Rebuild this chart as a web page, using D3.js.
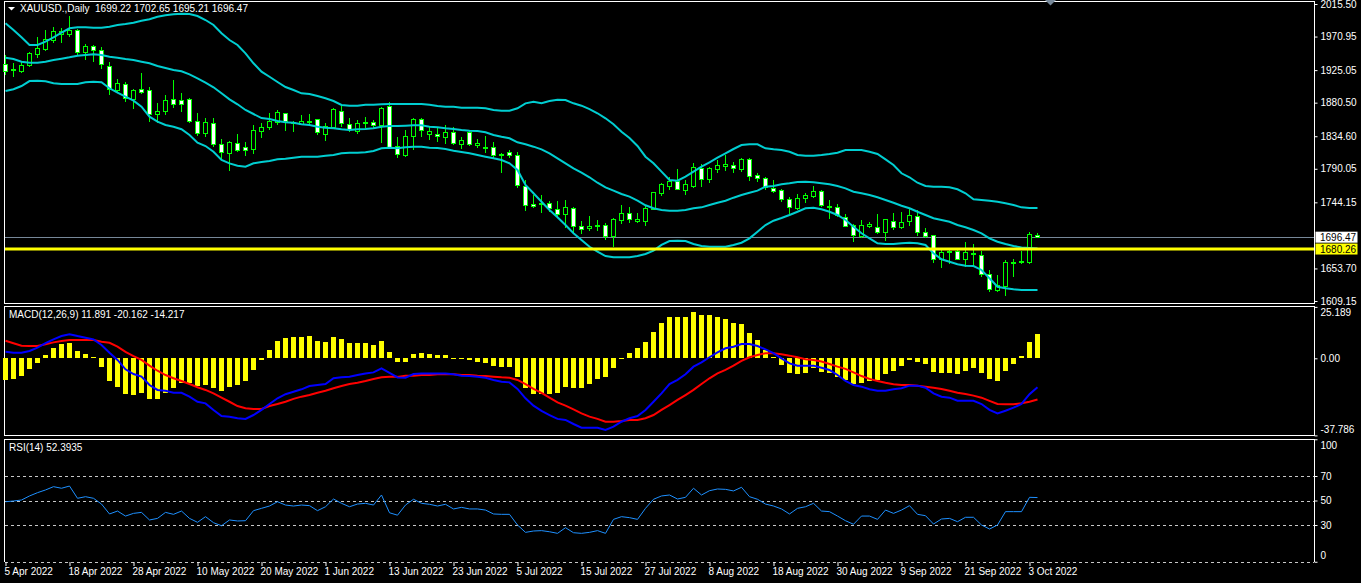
<!DOCTYPE html>
<html>
<head>
<meta charset="utf-8">
<script src="https://cdn.jsdelivr.net/npm/d3@7"></script>
<style>
  html, body { margin: 0; padding: 0; background: #000; }
  svg { display: block; }
  text { font-family: "Liberation Sans", Arial, sans-serif; font-size: 10px; fill: #fff; }
</style>
</head>
<body>
<svg id="chart"></svg>
<script>
// ---- daily OHLC, XAUUSD ----
const open = [1933.0,1924.2,1923.4,1931.6,1946.7,1953.5,1965.3,1973.5,1973.5,1979.9,
  1948.9,1957.1,1951.6,1929.7,1897.8,1905.1,1885.1,1898.8,1896.5,1864.0,
  1868.1,1884.2,1883.5,1885.1,1855.0,1838.6,1852.3,1823.5,1811.2,1824.9,
  1818.5,1816.7,1841.3,1846.3,1853.6,1866.0,1853.6,1850.9,1852.7,1856.8,
  1836.3,1846.8,1868.1,1850.9,1840.8,1853.6,1853.6,1849.0,1875.9,1821.2,
  1808.9,1833.9,1857.7,1837.2,1837.6,1832.6,1839.4,1822.6,1840.0,1821.6,
  1819.4,1819.4,1808.5,1813.0,1808.9,1765.5,1741.5,1743.2,1742.8,1734.6,
  1727.2,1736.0,1711.4,1707.7,1710.8,1713.1,1697.1,1719.0,1729.1,1717.6,
  1717.6,1735.0,1756.5,1765.5,1773.3,1760.1,1765.5,1790.7,1775.7,1789.3,
  1793.4,1793.9,1789.3,1803.0,1781.5,1777.0,1763.3,1760.3,1748.3,1736.0,
  1749.1,1751.9,1759.6,1736.8,1737.3,1723.7,1712.7,1697.1,1710.8,1710.0,
  1702.6,1718.2,1710.0,1718.2,1725.0,1702.6,1698.5,1666.2,1675.2,1676.6,
  1666.2,1672.5,1671.7,1645.7,1623.8,1628.7,1660.2,1661.6,1661.6,1699.22];
const high = [1945.7,1934.4,1937.9,1949.8,1970.8,1979.9,1984.4,1982.3,1999.1,1980.9,
  1960.4,1959.8,1957.1,1936.1,1912.9,1909.2,1898.8,1921.5,1901.5,1879.6,
  1891.0,1911.5,1893.3,1886.9,1866.0,1859.1,1859.1,1830.4,1828.1,1837.6,
  1826.3,1849.5,1852.3,1866.0,1870.5,1866.8,1855.4,1863.6,1865.0,1858.2,
  1852.3,1872.8,1875.9,1859.1,1856.8,1860.5,1856.8,1875.0,1881.0,1833.9,
  1843.1,1859.1,1859.1,1847.6,1845.4,1849.9,1846.8,1833.9,1842.2,1830.4,
  1834.9,1826.3,1811.2,1815.7,1813.4,1774.7,1754.2,1754.2,1746.4,1746.4,
  1747.3,1738.2,1719.0,1725.4,1720.0,1715.5,1722.3,1740.5,1737.3,1729.1,
  1740.5,1758.7,1770.2,1779.2,1789.3,1774.7,1797.5,1796.6,1792.9,1802.1,
  1808.9,1799.7,1804.4,1804.4,1784.7,1779.2,1774.7,1762.0,1751.0,1755.5,
  1757.3,1766.5,1761.0,1747.3,1741.5,1727.8,1714.5,1720.0,1717.2,1728.2,
  1721.7,1729.1,1730.9,1736.4,1733.7,1708.6,1699.4,1678.9,1679.9,1678.9,
  1689.9,1686.7,1677.6,1651.6,1644.7,1665.2,1666.2,1678.0,1704.0,1702.65];
const low = [1918.4,1916.0,1920.7,1928.9,1941.2,1951.6,1961.7,1961.7,1970.8,1945.7,
  1938.9,1936.6,1927.0,1891.0,1893.3,1881.8,1871.8,1892.4,1854.5,1852.3,
  1863.6,1873.6,1867.3,1852.3,1835.3,1833.9,1820.3,1803.0,1787.4,1813.4,
  1807.9,1810.3,1832.6,1843.1,1849.9,1842.2,1840.8,1849.9,1848.6,1836.3,
  1828.1,1845.4,1847.6,1840.8,1837.6,1845.4,1844.1,1825.7,1816.7,1804.4,
  1806.6,1815.7,1833.9,1829.4,1827.1,1824.0,1822.6,1816.7,1821.2,1818.1,
  1811.2,1803.4,1784.7,1804.4,1764.2,1732.7,1736.0,1730.0,1731.3,1723.7,
  1708.6,1704.0,1700.8,1705.3,1705.3,1692.6,1682.6,1714.5,1715.5,1715.5,
  1711.8,1734.6,1752.8,1761.0,1761.0,1754.2,1763.3,1765.5,1771.0,1783.9,
  1787.4,1783.9,1786.1,1773.3,1772.4,1761.0,1756.5,1745.0,1727.8,1733.7,
  1743.6,1750.5,1737.3,1721.7,1723.7,1710.0,1690.3,1694.9,1708.6,1700.8,
  1691.6,1706.3,1707.2,1711.8,1698.1,1694.9,1661.6,1654.7,1659.8,1665.2,
  1656.1,1657.0,1642.4,1621.9,1621.9,1616.4,1642.4,1659.8,1659.8,1695.21];
const close = [1923.8,1926.2,1931.6,1947.1,1954.9,1967.2,1978.1,1978.1,1979.9,1948.9,
  1958.0,1952.2,1933.0,1898.8,1907.0,1886.5,1896.5,1894.7,1864.6,1869.1,
  1882.8,1878.3,1878.0,1854.5,1838.6,1853.6,1822.6,1812.6,1825.7,1815.7,
  1815.3,1842.2,1846.8,1855.0,1867.3,1854.5,1853.2,1855.0,1855.4,1839.4,
  1847.6,1870.5,1852.3,1844.1,1852.3,1854.0,1849.0,1872.8,1818.9,1809.9,
  1834.9,1857.7,1842.2,1840.8,1833.9,1839.4,1824.0,1828.1,1822.6,1824.9,
  1819.8,1808.0,1809.2,1808.0,1766.5,1739.5,1738.2,1742.4,1735.4,1727.2,
  1737.3,1710.8,1706.7,1710.4,1713.1,1697.1,1720.9,1728.2,1720.9,1720.9,
  1736.0,1757.9,1767.9,1773.3,1762.0,1767.9,1792.1,1775.7,1790.7,1795.2,
  1795.6,1790.7,1802.1,1779.2,1777.0,1764.7,1758.7,1748.3,1737.3,1749.7,
  1753.8,1759.6,1739.5,1739.1,1725.9,1710.8,1699.4,1712.7,1714.5,1702.6,
  1720.9,1710.0,1716.8,1726.4,1703.1,1697.7,1666.2,1675.8,1677.1,1666.2,
  1675.8,1674.8,1645.7,1625.2,1630.1,1662.1,1662.5,1663.5,1700.8,1696.47];

// ---- Bollinger bands ----
const bbUpper = [1989.1,1979.9,1969.9,1959.4,1959.4,1963.9,1969.9,1976.2,1982.3,1983.6,
  1983.6,1983.1,1983.1,1984.4,1986.8,1988.1,1989.9,1992.7,1994.6,1998.1,
  2000.0,2001.4,2002.2,2001.8,1999.1,1993.6,1986.8,1975.4,1966.2,1959.4,
  1948.0,1934.4,1922.9,1916.0,1908.8,1901.9,1897.8,1893.3,1892.4,1889.6,
  1886.5,1882.8,1877.3,1876.4,1876.4,1877.7,1877.7,1878.3,1878.7,1878.7,
  1878.7,1878.7,1878.7,1877.7,1875.9,1875.0,1875.0,1873.6,1873.6,1873.6,
  1872.8,1870.5,1869.5,1869.5,1872.8,1879.6,1881.8,1879.6,1882.8,1884.6,
  1884.2,1879.6,1876.4,1871.8,1866.0,1859.1,1850.9,1840.8,1832.2,1821.2,
  1806.6,1797.5,1786.1,1774.7,1773.7,1779.2,1786.1,1792.9,1798.9,1805.2,
  1811.2,1817.1,1822.6,1823.5,1823.5,1818.1,1816.7,1815.7,1813.4,1808.9,
  1807.9,1807.9,1808.9,1810.3,1812.1,1815.7,1815.7,1815.7,1813.4,1810.3,
  1803.0,1795.2,1783.9,1778.4,1771.0,1766.5,1765.5,1765.5,1764.7,1762.0,
  1756.5,1748.3,1747.3,1746.4,1745.0,1742.8,1740.5,1737.3,1736.4,1736.4];
const bbMiddle = [1942.0,1940.3,1936.6,1935.2,1935.2,1936.6,1938.9,1940.7,1942.6,1944.8,
  1945.7,1946.7,1945.7,1943.4,1942.0,1940.3,1938.9,1936.6,1934.4,1930.7,
  1927.9,1925.2,1923.4,1919.3,1913.8,1907.8,1901.5,1893.3,1885.1,1878.3,
  1870.5,1865.0,1859.5,1858.2,1855.4,1853.6,1853.1,1850.9,1849.9,1847.6,
  1846.3,1845.4,1844.1,1843.1,1844.1,1844.5,1845.4,1847.6,1848.6,1848.6,
  1849.0,1849.5,1849.5,1847.6,1846.8,1845.4,1844.5,1843.1,1842.2,1841.7,
  1840.0,1836.3,1833.9,1831.8,1826.3,1823.5,1820.3,1816.7,1811.2,1804.4,
  1797.5,1790.7,1784.7,1778.4,1771.0,1764.7,1760.1,1755.5,1751.9,1746.4,
  1740.1,1736.0,1733.7,1732.7,1732.7,1733.7,1736.0,1737.3,1740.5,1743.6,
  1746.4,1750.5,1754.2,1757.3,1760.1,1765.5,1766.5,1768.8,1770.2,1772.0,
  1772.4,1771.6,1770.2,1768.8,1766.5,1763.3,1758.7,1756.5,1754.2,1751.0,
  1747.3,1743.6,1739.5,1736.0,1731.3,1726.8,1722.3,1720.0,1717.6,1713.1,
  1710.0,1706.3,1701.8,1694.9,1690.3,1687.1,1684.4,1682.3,1681.7,1681.0];
const bbLower = [1896.5,1898.8,1903.3,1910.1,1910.6,1909.7,1907.0,1906.0,1906.0,1906.0,
  1908.4,1909.2,1908.4,1900.2,1894.1,1888.7,1883.2,1875.0,1861.3,1854.5,
  1849.9,1847.6,1844.1,1836.3,1825.7,1821.2,1813.4,1802.1,1797.5,1794.3,
  1792.9,1797.5,1799.3,1800.7,1803.0,1803.8,1805.2,1806.6,1806.6,1806.6,
  1807.9,1808.9,1811.2,1812.1,1812.1,1812.6,1814.4,1818.1,1818.9,1818.1,
  1819.4,1820.3,1820.3,1818.9,1818.5,1817.1,1814.8,1813.0,1811.2,1808.9,
  1806.6,1804.4,1802.1,1797.5,1788.4,1767.9,1756.5,1745.0,1733.7,1723.7,
  1713.1,1701.8,1692.6,1683.4,1676.6,1670.7,1668.9,1668.9,1668.9,1670.7,
  1673.5,1678.0,1685.8,1691.2,1691.6,1691.2,1687.1,1684.4,1683.4,1683.4,
  1683.4,1685.8,1688.9,1694.9,1704.0,1713.1,1719.0,1722.7,1726.8,1731.3,
  1736.0,1736.8,1734.6,1731.3,1726.8,1720.0,1710.8,1701.8,1694.9,1688.1,
  1687.1,1687.1,1688.1,1688.9,1688.1,1685.8,1674.4,1666.2,1662.9,1659.4,
  1657.4,1657.0,1651.6,1640.2,1628.7,1626.5,1625.2,1624.2,1624.2,1624.2];

// ---- MACD(12,26,9) ----
const macdHist = [-10.6,-10.1,-8.7,-5.2,-2.5,1.6,4.9,7.0,7.6,3.6,
  2.1,0.5,-4.1,-11.0,-13.9,-17.5,-18.0,-16.9,-19.9,-19.9,
  -17.2,-14.7,-12.0,-12.3,-13.4,-13.1,-14.7,-15.9,-13.9,-13.1,
  -11.1,-5.7,-0.8,4.1,8.5,10.1,10.4,10.4,10.9,8.5,
  8.1,10.4,9.3,7.6,7.6,7.6,6.5,8.5,2.9,-2.0,
  -1.6,2.1,2.6,2.1,1.6,1.6,0.3,0.3,-0.8,-1.6,
  -2.1,-3.8,-4.1,-4.1,-9.0,-14.7,-17.5,-17.3,-17.3,-16.9,
  -13.9,-14.7,-14.4,-12.6,-10.1,-9.0,-4.6,0.3,2.7,4.9,
  8.1,13.0,17.4,20.4,20.4,20.4,22.8,21.2,21.2,20.4,
  19.3,17.1,16.8,12.2,9.0,4.1,0.8,-3.3,-7.1,-7.7,
  -7.1,-4.9,-6.6,-7.1,-9.0,-10.6,-12.6,-12.0,-11.1,-10.6,
  -7.7,-6.1,-3.8,-0.8,-1.6,-2.8,-6.6,-7.4,-7.4,-7.7,
  -6.1,-4.9,-7.4,-10.3,-11.1,-6.1,-2.8,1.1,8.1,11.891];
const macdMain = [3.2,2.7,2.7,3.6,5.2,7.4,9.3,10.9,11.8,10.9,
  10.1,9.3,6.5,2.7,-0.8,-5.4,-7.7,-9.0,-13.1,-15.5,
  -15.9,-16.9,-16.9,-18.8,-21.3,-22.1,-25.3,-28.3,-28.6,-29.4,
  -29.7,-27.8,-25.3,-22.4,-19.6,-17.6,-16.4,-15.2,-13.6,-13.1,
  -12.6,-9.8,-9.3,-9.0,-8.2,-7.4,-6.9,-4.9,-7.1,-9.4,
  -9.5,-7.7,-7.4,-7.4,-7.4,-7.4,-7.8,-8.5,-8.7,-9.0,
  -9.5,-10.6,-11.5,-11.8,-15.0,-19.6,-23.2,-25.8,-27.8,-29.7,
  -30.2,-32.2,-34.0,-34.0,-34.0,-35.1,-33.5,-31.1,-29.4,-28.3,
  -25.3,-21.3,-17.2,-12.6,-10.6,-7.8,-4.1,-2.0,0.5,2.9,
  4.9,5.7,7.0,7.0,6.0,4.4,2.5,0.0,-2.5,-3.6,
  -3.6,-3.6,-4.6,-5.7,-8.2,-11.1,-13.1,-13.9,-15.2,-15.9,
  -15.9,-15.2,-14.7,-13.4,-13.4,-14.4,-17.2,-18.8,-19.3,-20.8,
  -20.8,-20.8,-22.4,-25.3,-27.0,-25.7,-24.2,-22.4,-17.6,-14.217];
const macdSignal = [8.6,7.4,6.2,6.0,6.0,6.9,7.8,8.5,9.0,9.0,
  9.0,9.0,8.1,7.6,5.7,3.2,1.1,-0.8,-3.6,-6.1,
  -8.2,-9.8,-11.1,-12.6,-14.2,-15.5,-17.2,-19.3,-21.3,-23.4,
  -24.5,-24.8,-24.8,-23.4,-22.4,-21.3,-19.9,-18.8,-18.0,-16.9,
  -15.9,-14.7,-13.6,-12.6,-12.0,-11.1,-10.1,-9.3,-9.0,-9.1,
  -8.5,-8.5,-8.2,-8.2,-7.8,-7.8,-7.8,-8.2,-8.2,-8.5,
  -8.7,-9.0,-9.3,-9.5,-10.6,-12.7,-15.0,-16.9,-19.3,-21.6,
  -23.2,-25.0,-27.0,-28.6,-29.7,-31.1,-31.1,-30.7,-30.2,-30.2,
  -29.4,-27.8,-25.3,-22.9,-20.4,-18.0,-15.5,-12.6,-9.8,-7.4,
  -5.7,-3.6,-1.3,0.5,1.6,2.5,2.5,2.0,1.3,0.5,
  -0.5,-0.8,-1.6,-2.8,-4.1,-5.2,-6.9,-8.7,-10.1,-11.1,
  -12.0,-12.7,-13.1,-13.1,-13.4,-13.9,-14.4,-15.0,-15.9,-16.9,
  -17.5,-18.3,-19.3,-20.9,-22.4,-22.5,-22.5,-22.0,-21.3,-20.162];

// ---- RSI(14) ----
const rsi = [49.0,49.6,50.4,53.7,56.4,58.6,61.3,60.0,61.8,51.8,
  53.1,51.8,47.1,39.0,41.4,37.3,39.5,40.3,34.1,35.4,
  40.3,38.7,41.4,35.4,32.2,36.8,31.9,29.4,34.1,33.3,
  33.5,41.7,43.6,45.5,49.0,46.3,45.5,46.3,45.8,41.7,
  44.9,51.2,47.7,44.9,47.1,47.7,46.3,54.5,40.0,38.0,
  46.3,51.0,47.7,46.9,45.5,46.9,43.1,44.4,43.1,43.1,
  42.2,39.0,38.7,38.7,30.0,24.0,25.1,25.4,24.5,23.2,
  27.8,23.7,23.2,24.0,25.4,23.2,34.6,36.8,36.0,34.6,
  43.6,51.0,53.7,54.5,51.2,52.6,60.0,54.5,58.0,59.4,
  59.1,57.8,60.8,53.1,51.0,47.1,45.5,43.1,39.0,43.6,
  44.9,47.7,41.4,40.9,37.3,33.5,30.6,37.3,37.3,34.6,
  42.2,39.5,42.2,45.8,38.7,37.6,30.8,34.9,35.4,32.7,
  36.3,36.3,30.0,26.7,30.0,40.9,40.9,40.9,52.6,52.3935];

// ---- axis labels ----
const priceTicks = [2015.50, 1970.95, 1925.05, 1880.50, 1834.60, 1790.05, 1744.15, 1653.70, 1609.15];
const macdTicks = [25.189, 0, -37.786];
const macdTickLabels = ["25.189", "0.00", "-37.786"];
const rsiTicks = [100, 70, 50, 30, 0];
const rsiLevels = [70, 50, 30, 0];
const dateBars = [0, 8, 16, 24, 32, 40, 48, 56, 64, 72, 80, 88, 96, 104, 112, 120, 128];
const dateLabels = ["5 Apr 2022", "18 Apr 2022", "28 Apr 2022", "10 May 2022", "20 May 2022",
  "1 Jun 2022", "13 Jun 2022", "23 Jun 2022", "5 Jul 2022", "15 Jul 2022", "27 Jul 2022",
  "8 Aug 2022", "18 Aug 2022", "30 Aug 2022", "9 Sep 2022", "21 Sep 2022", "3 Oct 2022"];
const levelLine = 1680.26;

const width = 1361, height = 583;
const frameLeft = 4, frameRight = 1314;
const panels = {
  main: {top: 1, bottom: 303.5},
  macd: {top: 305.5, bottom: 436},
  rsi:  {top: 438.5, bottom: 562}
};
const n = close.length;
const last = n - 1;

const svg = d3.select("#chart")
    .attr("width", width)
    .attr("height", height)
    .attr("viewBox", [0, 0, width, height]);

svg.append("rect").attr("width", width).attr("height", height).attr("fill", "#000");

let x = d3.scaleLinear()
    .domain([0, last])
    .range([5, 5 + 8 * last]);

let yPrice = d3.scaleLinear()
    .domain([1609.15, 2015.5])
    .range([301, 4]);

let yMacd = d3.scaleLinear()
    .domain([-37.786, 25.189])
    .range([435.4, 306.9]);

let yRsi = d3.scaleLinear()
    .domain([0, 100])
    .range([561.75, 439.25]);

const px = i => Math.round(x(i)) + 0.5;

// frames
const frame = svg.append("g").attr("stroke", "#fff").attr("stroke-width", 1).attr("shape-rendering", "crispEdges");
Object.entries(panels).forEach(([k, p]) => {
  frame.append("line").attr("x1", frameLeft + 0.5).attr("x2", frameLeft + 0.5).attr("y1", p.top).attr("y2", p.bottom);
  frame.append("line").attr("x1", frameRight + 0.5).attr("x2", frameRight + 0.5).attr("y1", p.top).attr("y2", p.bottom);
  frame.append("line").attr("x1", frameLeft).attr("x2", frameRight + 1).attr("y1", p.top + 0.5).attr("y2", p.top + 0.5);
  if (k !== "rsi")
    frame.append("line").attr("x1", frameLeft).attr("x2", frameRight + 1).attr("y1", p.bottom - 0.5).attr("y2", p.bottom - 0.5);
});

// chart shift marker
svg.append("path")
    .attr("d", "M1045,0 L1056,0 L1050.5,5.5 Z")
    .attr("fill", "#778899");

// ---- main price panel ----
const main = svg.append("g");

main.append("line")
    .attr("x1", frameLeft + 1).attr("x2", frameRight)
    .attr("y1", Math.round(yPrice(close[last])) + 0.5)
    .attr("y2", Math.round(yPrice(close[last])) + 0.5)
    .attr("stroke", "#778899").attr("shape-rendering", "crispEdges");

const candles = main.append("g").attr("shape-rendering", "crispEdges");

candles.selectAll("line")
  .data(d3.range(n))
  .join("line")
    .attr("x1", px).attr("x2", px)
    .attr("y1", i => yPrice(high[i]))
    .attr("y2", i => yPrice(low[i]))
    .attr("stroke", "#00ff00");

candles.selectAll("rect")
  .data(d3.range(n))
  .join("rect")
    .attr("x", i => px(i) - 2)
    .attr("y", i => yPrice(Math.max(open[i], close[i])))
    .attr("width", 4)
    .attr("height", i => Math.max(1, Math.abs(yPrice(open[i]) - yPrice(close[i]))))
    .attr("fill", i => close[i] < open[i] ? "#fff" : "#000")
    .attr("stroke", "#00ff00");

const bbLine = d3.line().x((d, i) => px(i)).y(d => yPrice(d));
[bbUpper, bbMiddle, bbLower].forEach(band => {
  main.append("path")
      .attr("d", bbLine(band))
      .attr("fill", "none")
      .attr("stroke", "#00ced1")
      .attr("stroke-width", 2);
});

main.append("line")
    .attr("x1", frameLeft + 1).attr("x2", frameRight)
    .attr("y1", yPrice(levelLine)).attr("y2", yPrice(levelLine))
    .attr("stroke", "#ffff00").attr("stroke-width", 3);

const priceAxis = svg.append("g")
    .attr("transform", `translate(${frameRight + 0.5},0)`)
    .attr("color", "#fff")
    .call(d3.axisRight(yPrice).tickValues(priceTicks).tickFormat(d3.format(".2f")).tickSize(3).tickPadding(3))
    .call(g => g.select(".domain").remove())
    .call(g => g.selectAll("text").attr("font-size", 10).attr("font-family", null));

// price tags on the axis
const tags = [
  {v: close[last], bg: "#fff"},
  {v: levelLine, bg: "#ffff00"}
];
tags.forEach(t => {
  const yy = yPrice(t.v);
  svg.append("rect")
      .attr("x", frameRight + 1.5).attr("y", yy - 5.5)
      .attr("width", 42).attr("height", 11)
      .attr("fill", t.bg);
  svg.append("text")
      .attr("x", frameRight + 6).attr("y", yy)
      .attr("dy", "0.35em")
      .style("fill", "#000")
      .text(d3.format(".2f")(t.v));
});

// header
svg.append("path").attr("d", "M8,7 L15,7 L11.5,10.5 Z").attr("fill", "#fff");
svg.append("text")
    .attr("x", 20).attr("y", 12)
    .style("white-space", "pre")
    .text(`XAUUSD.,Daily  ${open[last].toFixed(2)} ${high[last].toFixed(2)} ${low[last].toFixed(2)} ${close[last].toFixed(2)}`);

// ---- MACD panel ----
const macdG = svg.append("g");

macdG.append("g")
    .attr("fill", "#ffff00")
    .attr("shape-rendering", "crispEdges")
  .selectAll("rect")
  .data(macdHist)
  .join("rect")
    .attr("x", (d, i) => px(i) - 2.5)
    .attr("y", d => Math.min(yMacd(0), yMacd(d)))
    .attr("width", 5)
    .attr("height", d => Math.max(1, Math.abs(yMacd(d) - yMacd(0))));

const macdLine = d3.line().x((d, i) => px(i)).y(d => yMacd(d));
macdG.append("path").attr("d", macdLine(macdSignal))
    .attr("fill", "none").attr("stroke", "#ff0000").attr("stroke-width", 2);
macdG.append("path").attr("d", macdLine(macdMain))
    .attr("fill", "none").attr("stroke", "#0000ff").attr("stroke-width", 2);

macdG.append("text")
    .attr("x", 9).attr("y", 317.5)
    .text(`MACD(12,26,9) ${macdHist[last].toFixed(3)} ${macdSignal[last].toFixed(3)} ${macdMain[last].toFixed(3)}`);

const clampShift = (g, scale, p) => g.selectAll(".tick text")
    .attr("y", d => {
      const t = scale(d);
      return Math.max(p.top + 6.5, Math.min(p.bottom - 6.5, t)) - t;
    });

svg.append("g")
    .attr("transform", `translate(${frameRight + 0.5},0)`)
    .attr("color", "#fff")
    .call(d3.axisRight(yMacd).tickValues(macdTicks).tickFormat((d, i) => macdTickLabels[i]).tickSize(3).tickPadding(3))
    .call(g => g.select(".domain").remove())
    .call(g => g.selectAll("text").attr("font-size", 10).attr("font-family", null))
    .call(g => clampShift(g, yMacd, panels.macd));

// ---- RSI panel ----
const rsiG = svg.append("g");

rsiG.selectAll("line.level")
  .data(rsiLevels)
  .join("line")
    .attr("class", "level")
    .attr("x1", frameLeft + 1).attr("x2", frameRight)
    .attr("y1", d => Math.round(yRsi(d)) + 0.5)
    .attr("y2", d => Math.round(yRsi(d)) + 0.5)
    .attr("stroke", "#c8c8c8")
    .attr("stroke-dasharray", "3,3")
    .attr("shape-rendering", "crispEdges");

rsiG.append("path")
    .attr("d", d3.line().x((d, i) => px(i)).y(d => yRsi(d))(rsi))
    .attr("fill", "none")
    .attr("stroke", "#1e90ff")
    .attr("stroke-width", 1);

rsiG.append("text")
    .attr("x", 9).attr("y", 451)
    .text(`RSI(14) ${rsi[last].toFixed(4)}`);

svg.append("g")
    .attr("transform", `translate(${frameRight + 0.5},0)`)
    .attr("color", "#fff")
    .call(d3.axisRight(yRsi).tickValues(rsiTicks).tickFormat(d3.format("d")).tickSize(3).tickPadding(3))
    .call(g => g.select(".domain").remove())
    .call(g => g.selectAll("text").attr("font-size", 10).attr("font-family", null))
    .call(g => clampShift(g, yRsi, panels.rsi));

// ---- date axis ----
svg.append("g")
    .attr("transform", `translate(0,${panels.rsi.bottom})`)
    .attr("color", "#fff")
    .call(d3.axisBottom(x).tickValues(dateBars).tickFormat((d, i) => dateLabels[i]).tickSize(4).tickPadding(2))
    .call(g => g.select(".domain").remove())
    .call(g => g.selectAll(".tick line").attr("transform", "translate(0.5,0)"))
    .call(g => g.selectAll("text")
        .attr("text-anchor", "start")
        .attr("x", -1)
        .attr("font-size", 10)
        .attr("font-family", null));
</script>
</body>
</html>
